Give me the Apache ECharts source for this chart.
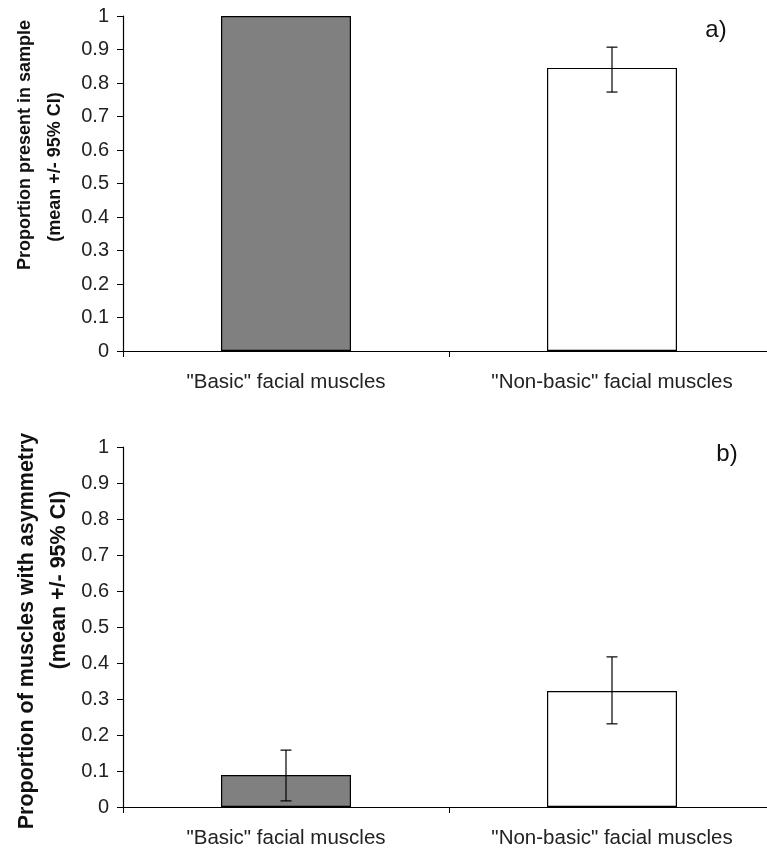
<!DOCTYPE html>
<html>
<head>
<meta charset="utf-8">
<script src="https://cdn.jsdelivr.net/npm/echarts@6/dist/echarts.min.js"></script>
<style>
html,body{margin:0;padding:0;background:#fff;}
#chart{width:767px;height:852px;}
</style>
</head>
<body>
<div id="chart"></div>
<script>
const categories = ['"Basic" facial muscles', '"Non-basic" facial muscles'];
const yTicks = [0, 0.1, 0.2, 0.3, 0.4, 0.5, 0.6, 0.7, 0.8, 0.9, 1];

// Panel a) proportion present in sample
const presentMean = [1.0, 0.845];
const presentLow  = [null, 0.773];
const presentHigh = [null, 0.907];

// Panel b) proportion of muscles with asymmetry
const asymMean = [0.089, 0.322];
const asymLow  = [0.017, 0.231];
const asymHigh = [0.158, 0.417];

const barColors = ['#808080', '#ffffff'];

const chart = echarts.init(document.getElementById('chart'));

function errRender(params, api) {
  const x = api.value(0);
  const lo = api.value(1);
  const hi = api.value(2);
  if (lo == null || isNaN(lo)) return;
  const pLo = api.coord([x, lo]);
  const pHi = api.coord([x, hi]);
  const cap = 5.5;
  const style = {stroke: '#000', lineWidth: 1.2};
  return {
    type: 'group',
    children: [
      {type: 'line', shape: {x1: pLo[0], y1: pLo[1], x2: pHi[0], y2: pHi[1]}, style: style},
      {type: 'line', shape: {x1: pLo[0] - cap, y1: pLo[1], x2: pLo[0] + cap, y2: pLo[1]}, style: style},
      {type: 'line', shape: {x1: pHi[0] - cap, y1: pHi[1], x2: pHi[0] + cap, y2: pHi[1]}, style: style}
    ]
  };
}

const labelFont = 'Liberation Sans, Arial, sans-serif';

function xAxisCfg(gridIndex) {
  return {
    type: 'category', gridIndex: gridIndex, data: categories,
    boundaryGap: true,
    axisLine: {lineStyle: {color: '#000', width: 1.2}},
    axisTick: {show: true, length: 6, lineStyle: {color: '#000'}},
    axisLabel: {color: '#222', fontFamily: labelFont, fontSize: 20.5, margin: 21}
  };
}
function yAxisCfg(gridIndex) {
  return {
    type: 'value', gridIndex: gridIndex, min: 0, max: 1, interval: 0.1,
    axisLine: {show: true, lineStyle: {color: '#000', width: 1.2}},
    axisTick: {show: true, length: 6, inside: false, lineStyle: {color: '#000'}},
    splitLine: {show: false},
    axisLabel: {color: '#222', fontFamily: labelFont, fontSize: 20, margin: 14,
      formatter: function (v) { return String(Math.round(v * 10) / 10); }}
  };
}

function barData(vals) {
  return vals.map((v, i) => ({value: v, itemStyle: {color: barColors[i], borderColor: '#000', borderWidth: 1.2}}));
}
function errData(lo, hi) {
  return lo.map((l, i) => [i, l == null ? NaN : l, hi[i] == null ? NaN : hi[i]]);
}

chart.setOption({
  animation: false,
  backgroundColor: '#fff',
  grid: [
    {left: 123, top: 16, width: 652, height: 335, outerBoundsMode: 'none', containLabel: false},
    {left: 123, top: 447, width: 652, height: 360, outerBoundsMode: 'none', containLabel: false}
  ],
  xAxis: [xAxisCfg(0), xAxisCfg(1)],
  yAxis: [yAxisCfg(0), yAxisCfg(1)],
  series: [
    {type: 'bar', xAxisIndex: 0, yAxisIndex: 0, barWidth: 130, data: barData(presentMean)},
    {type: 'custom', xAxisIndex: 0, yAxisIndex: 0, renderItem: errRender, data: errData(presentLow, presentHigh), z: 10},
    {type: 'bar', xAxisIndex: 1, yAxisIndex: 1, barWidth: 130, data: barData(asymMean)},
    {type: 'custom', xAxisIndex: 1, yAxisIndex: 1, renderItem: errRender, data: errData(asymLow, asymHigh), z: 10}
  ],
  graphic: [
    {type: 'text', x: 25, y: 145, rotation: Math.PI / 2,
      style: {text: 'Proportion present in sample', font: 'bold 18px ' + labelFont, fill: '#111', align: 'center', verticalAlign: 'middle'}},
    {type: 'text', x: 55, y: 167, rotation: Math.PI / 2,
      style: {text: '(mean +/- 95% CI)', font: 'bold 18px ' + labelFont, fill: '#111', align: 'center', verticalAlign: 'middle'}},
    {type: 'text', x: 27, y: 631, rotation: Math.PI / 2,
      style: {text: 'Proportion of muscles with asymmetry', font: 'bold 21.5px ' + labelFont, fill: '#111', align: 'center', verticalAlign: 'middle'}},
    {type: 'text', x: 59, y: 580, rotation: Math.PI / 2,
      style: {text: '(mean +/- 95% CI)', font: 'bold 21.5px ' + labelFont, fill: '#111', align: 'center', verticalAlign: 'middle'}},
    {type: 'text', x: 716, y: 30,
      style: {text: 'a)', font: '24px ' + labelFont, fill: '#111', align: 'center', verticalAlign: 'middle'}},
    {type: 'text', x: 727, y: 454,
      style: {text: 'b)', font: '24px ' + labelFont, fill: '#111', align: 'center', verticalAlign: 'middle'}}
  ]
});
</script>
</body>
</html>
